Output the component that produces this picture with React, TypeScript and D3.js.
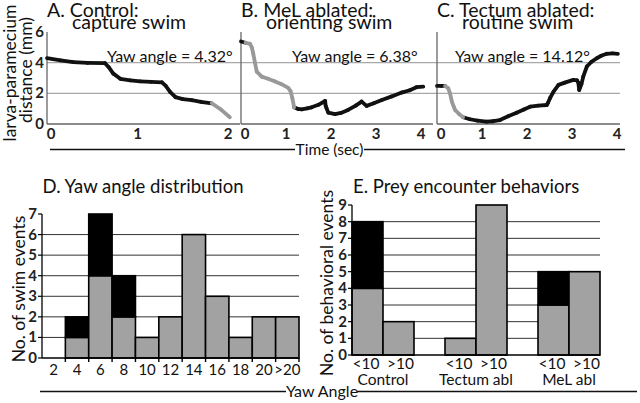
import React from "react";
import * as d3 from "d3";

// ---------- Data: top row traces ----------
const timeA = [0, 0.15, 0.29, 0.45, 0.64, 0.68, 0.73, 0.81, 0.92, 1.03, 1.15, 1.27, 1.31, 1.36, 1.42, 1.5, 1.6, 1.7, 1.82, 1.92, 2.02];
const distA = [4.3, 4.15, 4.03, 3.98, 3.97, 3.72, 3.3, 2.95, 2.85, 2.78, 2.75, 2.72, 2.5, 2.1, 1.75, 1.62, 1.55, 1.45, 1.35, 0.95, 0.44];
const grayA = [1.82, 2.02];

const timeB = [0, 0.1, 0.2, 0.24, 0.27, 0.31, 0.35, 0.46, 0.6, 0.76, 0.9, 1.05, 1.1, 1.14, 1.18, 1.27, 1.35, 1.47, 1.57, 1.72, 1.87, 1.88, 1.9, 1.94, 2.09, 2.22, 2.38, 2.55, 2.68, 2.79, 2.95, 3.13, 3.35, 3.57, 3.75, 3.9, 4.05];
const distB = [5.38, 5.3, 5.23, 5.0, 4.62, 4.0, 3.42, 3.09, 2.95, 2.77, 2.6, 2.35, 2.15, 1.7, 1.09, 0.98, 0.96, 1.02, 1.09, 1.25, 1.5, 1.2, 1.03, 0.74, 0.65, 0.72, 0.92, 1.2, 1.46, 1.18, 1.35, 1.57, 1.8, 2.05, 2.2, 2.4, 2.44];
const grayB = [0.1, 1.18];

const timeC = [0, 0.09, 0.18, 0.25, 0.29, 0.33, 0.37, 0.4, 0.49, 0.58, 0.73, 0.9, 1.1, 1.25, 1.4, 1.58, 1.77, 1.93, 2.07, 2.25, 2.44, 2.47, 2.51, 2.59, 2.7, 2.84, 3.03, 3.11, 3.14, 3.16, 3.21, 3.25, 3.33, 3.43, 3.55, 3.65, 3.77, 3.9, 4.02];
const distC = [2.48, 2.48, 2.48, 2.33, 2.0, 1.46, 1.15, 0.92, 0.65, 0.44, 0.31, 0.22, 0.15, 0.18, 0.26, 0.5, 0.74, 0.95, 1.13, 1.2, 1.24, 1.4, 1.68, 2.11, 2.55, 2.7, 2.88, 2.85, 2.7, 2.22, 2.6, 3.09, 3.75, 4.05, 4.29, 4.45, 4.58, 4.6, 4.58];
const grayC = [0.18, 0.58];

const titlesTop = [["A. Control:", "capture swim"], ["B. MeL ablated:", "orienting swim"], ["C. Tectum ablated:", "routine swim"]];
const yawLabels = ["Yaw angle = 4.32°", "Yaw angle = 6.38°", "Yaw angle = 14.12°"];
const timeTicksA = [0, 1, 2];
const timeTicksBC = [0, 1, 2, 3, 4];
const distTicks = [0, 2, 4, 6];
const distGrid = [2, 4];

// ---------- Data: panel D ----------
const yawBins = ["2", "4", "6", "8", "10", "12", "14", "16", "18", "20", ">20"];
const yawGray = [0, 1, 4, 2, 1, 2, 6, 3, 1, 2, 2];
const yawBlack = [0, 1, 3, 2, 0, 0, 0, 0, 0, 0, 0];
const swimTicks = [0, 1, 2, 3, 4, 5, 6, 7];
const swimGrid = [1, 2, 3, 4, 5, 6];

// ---------- Data: panel E ----------
const groups = ["Control", "Tectum abl", "MeL abl"];
const subcats = ["<10", ">10"];
const encGray = [[4, 2], [1, 9], [3, 5]];
const encBlack = [[4, 0], [0, 0], [2, 0]];
const behTicks = [0, 1, 2, 3, 4, 5, 6, 7, 8, 9];
const behGrid = [1, 2, 3, 4, 5, 6, 7, 8];

const FONT = "Lato, 'Open Sans', sans-serif";
const GRAY_BAR = "#a2a2a2";
const GRAY_LINE = "#999999";

// top panels layout
const topPanels = [
  { t: timeA, d: distA, gray: grayA, domain: [0, 2], range: [47, 228], ticks: timeTicksA, yawX: 107 },
  { t: timeB, d: distB, gray: grayB, domain: [0, 4], range: [241, 421], ticks: timeTicksBC, yawX: 292 },
  { t: timeC, d: distC, gray: grayC, domain: [0, 4], range: [437, 617], ticks: timeTicksBC, yawX: 455 },
];

const yTop = d3.scaleLinear().domain([0, 6]).range([124, 32]);

function Trace({ p }: { p: any }) {
  const x = d3.scaleLinear().domain(p.domain).range(p.range);
  const line = d3.line<[number, number]>().x((q) => x(q[0])).y((q) => yTop(q[1]));
  const pts: [number, number][] = p.t.map((t: number, i: number) => [t, p.d[i]]);
  const black: JSX.Element[] = [];
  const gray: JSX.Element[] = [];
  for (let i = 0; i < pts.length - 1; i++) {
    const a = pts[i], b = pts[i + 1];
    const isGray = a[0] >= p.gray[0] && b[0] <= p.gray[1];
    const el = (
      <path key={i} d={line([a, b]) || ""} stroke={isGray ? GRAY_LINE : "#111"} strokeWidth={3.8} strokeLinecap="round" fill="none" />
    );
    (isGray ? gray : black).push(el);
  }
  return <g>{black}{gray}</g>;
}

export default function App() {
  const xD = d3.scaleBand().domain(yawBins).range([42, 299]).padding(0);
  const yD = d3.scaleLinear().domain([0, 7]).range([358, 214]);
  const xE = d3.scaleLinear().domain([0, 8]).range([352, 600]);
  const yE = d3.scaleLinear().domain([0, 9]).range([355, 205]);
  const slot = (g: number, s: number) => g * 3 + s;

  return (
    <svg width={640} height={403} viewBox="0 0 640 403" style={{ position: "absolute", left: 0, top: 0, background: "#fff" }} fontFamily={FONT}>
      <rect width={640} height={403} fill="#fff" />
      {/* ---------- Top row ---------- */}
      <text transform="translate(15.5,73) rotate(-90)" textAnchor="middle" fontSize={17.5} fill="#111">larva-paramecium</text>
      <text transform="translate(31.5,70) rotate(-90)" textAnchor="middle" fontSize={17.5} fill="#111">distance (mm)</text>

      {distGrid.map((v) => (
        <line key={v} x1={47} x2={620} y1={yTop(v)} y2={yTop(v)} stroke="#a8a8a8" strokeWidth={1.3} />
      ))}

      {topPanels.map((p, i) => {
        const x = d3.scaleLinear().domain(p.domain).range(p.range);
        const x0 = p.range[0];
        return (
          <g key={i}>
            <line x1={x0} x2={x0} y1={yTop(6)} y2={yTop(0)} stroke="#666" strokeWidth={1.3} />
            <line x1={x0} x2={i === 2 ? 620 : p.range[1] + 12} y1={yTop(0)} y2={yTop(0)} stroke="#666" strokeWidth={1.3} />
            <text x={x0} y={17} fontSize={19.5} fill="#111">{titlesTop[i][0]}</text>
            <text x={x0 + 25} y={29} fontSize={19.5} fill="#111">{titlesTop[i][1]}</text>
            <text x={p.yawX} y={61.5} fontSize={16} fill="#111">{yawLabels[i]}</text>
            {p.ticks.map((t: number) => (
              <text key={t} x={x(t) + (t === 0 ? 4 : 0)} y={139} fontSize={15} fontWeight="bold" textAnchor="middle" fill="#222">{t}</text>
            ))}
            <Trace p={p} />
          </g>
        );
      })}
      {distTicks.map((v) => (
        <text key={v} x={44} y={yTop(v) + 5} fontSize={15} fontWeight="bold" textAnchor="end" fill="#222">{v}</text>
      ))}

      {/* Time axis */}
      <line x1={50} x2={295} y1={149.5} y2={149.5} stroke="#111" strokeWidth={1.6} />
      <line x1={364} x2={625} y1={149.5} y2={149.5} stroke="#111" strokeWidth={1.6} />
      <text x={329.5} y={155} fontSize={15.5} textAnchor="middle" fill="#111">Time (sec)</text>

      {/* ---------- Panel D ---------- */}
      <text x={42.5} y={193} fontSize={18.5} fill="#111">D. Yaw angle distribution</text>
      <text transform="translate(25,289) rotate(-90)" textAnchor="middle" fontSize={17.5} fill="#111">No. of swim events</text>
      {swimGrid.map((v) => (
        <line key={v} x1={42} x2={299} y1={yD(v)} y2={yD(v)} stroke="#333" strokeWidth={1} />
      ))}
      {yawBins.map((b, i) => {
        const x0 = xD(b)!;
        const w = xD.bandwidth();
        return (
          <g key={b}>
            {yawGray[i] > 0 && (
              <rect x={x0} y={yD(yawGray[i])} width={w} height={yD(0) - yD(yawGray[i])} fill={GRAY_BAR} stroke="#000" strokeWidth={1.6} />
            )}
            {yawBlack[i] > 0 && (
              <rect x={x0} y={yD(yawGray[i] + yawBlack[i])} width={w} height={yD(yawGray[i]) - yD(yawGray[i] + yawBlack[i])} fill="#000" stroke="#000" strokeWidth={1.6} />
            )}
            <text x={x0 + w / 2} y={375} fontSize={15} textAnchor="middle" fill="#111">{b}</text>
          </g>
        );
      })}
      {yawBins.slice(1).map((b) => (
        <line key={b} x1={xD(b)!} x2={xD(b)!} y1={yD(0)} y2={yD(0) + 4} stroke="#000" strokeWidth={1.4} />
      ))}
      <line x1={299} x2={299} y1={yD(0)} y2={yD(0) + 4} stroke="#000" strokeWidth={1.4} />
      <line x1={42} x2={42} y1={yD(0)} y2={yD(7)} stroke="#000" strokeWidth={1.3} />
      <line x1={42} x2={299} y1={yD(0)} y2={yD(0)} stroke="#000" strokeWidth={1.4} />
      {swimTicks.map((v) => (
        <g key={v}>
          <line x1={38} x2={42} y1={yD(v)} y2={yD(v)} stroke="#000" strokeWidth={1.2} />
          <text x={37} y={yD(v) + 5} fontSize={15} fontWeight="bold" textAnchor="end" fill="#222">{v}</text>
        </g>
      ))}

      {/* Yaw Angle axis line */}
      <line x1={40} x2={286} y1={391.5} y2={391.5} stroke="#111" strokeWidth={1.6} />
      <line x1={357} x2={637} y1={391.5} y2={391.5} stroke="#111" strokeWidth={1.6} />
      <text x={322} y={397} fontSize={16} textAnchor="middle" fill="#111">Yaw Angle</text>

      {/* ---------- Panel E ---------- */}
      <text x={353} y={193} fontSize={18.5} fill="#111">E. Prey encounter behaviors</text>
      <text transform="translate(333,283) rotate(-90)" textAnchor="middle" fontSize={17.5} fill="#111">No. of behavioral events</text>
      {behGrid.map((v) => (
        <line key={v} x1={352} x2={600} y1={yE(v)} y2={yE(v)} stroke="#333" strokeWidth={1} />
      ))}
      {groups.map((g, gi) => (
        <g key={g}>
          {subcats.map((s, si) => {
            const x0 = xE(slot(gi, si));
            const w = xE(1) - xE(0);
            const gv = encGray[gi][si];
            const bv = encBlack[gi][si];
            return (
              <g key={s}>
                {gv > 0 && <rect x={x0} y={yE(gv)} width={w} height={yE(0) - yE(gv)} fill={GRAY_BAR} stroke="#000" strokeWidth={1.6} />}
                {bv > 0 && <rect x={x0} y={yE(gv + bv)} width={w} height={yE(gv) - yE(gv + bv)} fill="#000" stroke="#000" strokeWidth={1.6} />}
                <text x={x0 + w / 2 + (si === 0 ? -1.5 : 2)} y={369} fontSize={15.5} textAnchor="middle" fill="#111">{s}</text>
              </g>
            );
          })}
          <text x={xE(slot(gi, 1))} y={385} fontSize={15.5} textAnchor="middle" fill="#111">{g}</text>
        </g>
      ))}
      <line x1={352} x2={352} y1={yE(0)} y2={yE(9)} stroke="#000" strokeWidth={1.3} />
      <line x1={352} x2={600} y1={yE(0)} y2={yE(0)} stroke="#000" strokeWidth={1.4} />
      {behTicks.map((v) => (
        <g key={v}>
          <line x1={348} x2={352} y1={yE(v)} y2={yE(v)} stroke="#000" strokeWidth={1.2} />
          <text x={347} y={yE(v) + 5} fontSize={15} fontWeight="bold" textAnchor="end" fill="#222">{v}</text>
        </g>
      ))}
    </svg>
  );
}
